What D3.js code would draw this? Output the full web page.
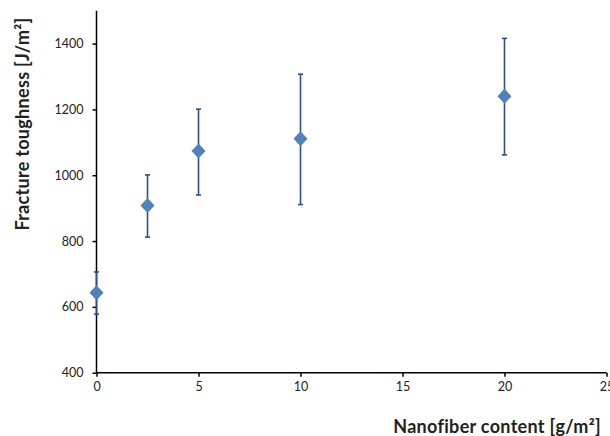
<!DOCTYPE html>
<html>
<head>
<meta charset="utf-8">
<script src="https://cdn.jsdelivr.net/npm/d3@7"></script>
<style>
  body { margin: 0; background: #fff; }
  svg text { font-family: "Lato", "Open Sans", sans-serif; fill: #222; }
</style>
</head>
<body>
<svg id="chart" width="610" height="436"></svg>
<script>
// nanofiber content (g/m2) and measured toughness (J/m2)
const content = [0, 2.5, 5, 10, 20];
const toughness = [643, 908, 1074, 1111, 1240];
const errLow = [578, 812, 940, 911, 1062];
const errHigh = [706, 1001, 1201, 1307, 1416];
const xTicks = [0, 5, 10, 15, 20, 25];
const yTicks = [400, 600, 800, 1000, 1200, 1400];

const svg = d3.select("#chart");

const x = d3.scaleLinear().domain([0, 25]).range([96.5, 606.5]);
const y = d3.scaleLinear().domain([400, 1500]).range([372.7, 10.7]);

// axes
const xAxis = svg.append("g")
  .attr("transform", "translate(0,372.7)")
  .call(d3.axisBottom(x).tickValues(xTicks).tickFormat(d3.format("d")).tickSize(4).tickPadding(5));
const yAxis = svg.append("g")
  .attr("transform", "translate(96.5,0)")
  .call(d3.axisLeft(y).tickValues(yTicks).tickFormat(d3.format("d")).tickSize(4).tickPadding(9));

[xAxis, yAxis].forEach(a => {
  a.select(".domain").attr("stroke", "#000").attr("stroke-width", 1.5);
  a.selectAll(".tick line").attr("stroke", "#000").attr("stroke-width", 1.5);
  a.selectAll(".tick text").style("font-size", "12.5px").attr("fill", "#222");
});
// drop the outer end caps of the domain path
xAxis.select(".domain").attr("d", `M${x(0)},0H${x(25)}`);
yAxis.select(".domain").attr("d", `M0,${y(400)}V${y(1500)}`);

// error bars
const err = svg.append("g");
err.selectAll("line.bar")
  .data(content)
  .enter().append("line")
  .attr("class", "bar")
  .attr("x1", d => x(d)).attr("x2", d => x(d))
  .attr("y1", (d, i) => y(errLow[i])).attr("y2", (d, i) => y(errHigh[i]))
  .attr("stroke", "#2a5189").attr("stroke-width", 1.6);
["low", "high"].forEach(k => {
  const vals = k == "low" ? errLow : errHigh;
  err.selectAll("line.cap-" + k)
    .data(content)
    .enter().append("line")
    .attr("class", "cap-" + k)
    .attr("x1", d => x(d) - 2.5).attr("x2", d => x(d) + 2.5)
    .attr("y1", (d, i) => y(vals[i])).attr("y2", (d, i) => y(vals[i]))
    .attr("stroke", "#2a5189").attr("stroke-width", 1.6);
});

// diamond markers
svg.append("g").selectAll("path")
  .data(content)
  .enter().append("path")
  .attr("transform", (d, i) => `translate(${x(d)},${y(toughness[i])})`)
  .attr("d", "M0,-7.5L7,0L0,7.5L-7,0Z")
  .attr("fill", "#4f81bd");

// axis titles
svg.append("text")
  .attr("x", 601).attr("y", 433)
  .attr("text-anchor", "end")
  .style("font-size", "18px").style("font-weight", "bold").style("letter-spacing", "0.3px")
  .text("Nanofiber content [g/m²]");

svg.append("text")
  .attr("transform", "translate(29,124) rotate(-90)")
  .attr("text-anchor", "middle")
  .style("font-size", "18px").style("font-weight", "bold").style("letter-spacing", "0.3px")
  .text("Fracture toughness [J/m²]");
</script>
</body>
</html>
